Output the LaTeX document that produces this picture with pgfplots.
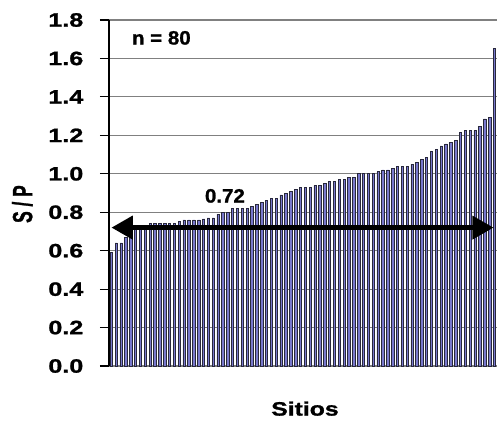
\documentclass[border=0pt]{standalone}
\usepackage{pgfplots}
\usepackage{pgfplotstable}
\pgfplotsset{compat=1.18}
\usepackage{fontspec}
\setmainfont{Liberation Sans}
\newfontfamily\tickfont{Liberation Sans}[FakeStretch=1.3, FakeBold=1.2]
\newfontfamily\labfont{Liberation Sans}[FakeStretch=1.28, FakeBold=1.2]
\newfontfamily\annfont{Liberation Sans}[FakeStretch=1.06, FakeBold=1.2]
\newfontfamily\ylfont{Liberation Sans}[FakeBold=1.5]
\usetikzlibrary{arrows.meta}
\definecolor{barfill}{RGB}{120,120,205}
\definecolor{baredge}{RGB}{40,40,60}

\pgfplotstableread{
i v
0 0.59
1 0.64
2 0.64
3 0.67
4 0.68
5 0.71
6 0.71
7 0.73
8 0.74
9 0.74
10 0.74
11 0.74
12 0.74
13 0.74
14 0.75
15 0.76
16 0.76
17 0.76
18 0.76
19 0.765
20 0.77
21 0.77
22 0.79
23 0.80
24 0.80
25 0.82
26 0.82
27 0.82
28 0.82
29 0.83
30 0.84
31 0.85
32 0.86
33 0.87
34 0.87
35 0.89
36 0.90
37 0.91
38 0.92
39 0.93
40 0.93
41 0.93
42 0.94
43 0.94
44 0.95
45 0.96
46 0.96
47 0.97
48 0.97
49 0.98
50 0.98
51 1.00
52 1.00
53 1.00
54 1.00
55 1.01
56 1.02
57 1.02
58 1.03
59 1.04
60 1.04
61 1.04
62 1.05
63 1.06
64 1.075
65 1.085
66 1.115
67 1.125
68 1.145
69 1.155
70 1.165
71 1.175
72 1.215
73 1.225
74 1.225
75 1.225
76 1.245
77 1.285
78 1.295
79 1.65
}\datatable

\begin{document}
\begin{tikzpicture}
\begin{axis}[
  name=ax,
  scale only axis,
  width=291pt, height=259.5pt,
  xmin=-0.5, xmax=79.5, ymin=0, ymax=1.8,
  clip=false,
  axis lines*=left,
  x axis line style={draw=gray, line width=0.8pt},
  y axis line style={draw=black, line width=0.8pt},
  xtick=\empty,
  ytick={0,0.2,0.4,0.6,0.8,1.0,1.2,1.4,1.6,1.8},
  tick align=outside,
  major tick length=6.75pt,
  ytick style={black, line width=0.8pt},
  ymajorgrids,
  grid style={draw=gray, line width=0.9pt},
  yticklabel style={font=\tickfont\bfseries\fontsize{14.5}{16}\selectfont, xshift=-9pt},
  /pgf/number format/.cd, fixed, fixed zerofill, precision=1, assume math mode=true,
]
\addplot[ybar, bar width=0.5, fill=barfill, draw=baredge, line width=0.6pt]
  table[x=i, y=v]{\datatable};
\draw[line width=3.75pt, {Triangle[length=16pt,width=17pt]}-{Triangle[length=16pt,width=17pt]}]
  (axis cs:0,0.72) -- (axis cs:78.8,0.72);
\node[font=\annfont\bfseries\fontsize{14.5}{16}\selectfont] at (axis cs:23.4,0.885) {0.72};
\node[font=\annfont\bfseries\fontsize{14.5}{16}\selectfont] at (axis cs:10.3,1.707) {n = 80};
\node[font=\labfont\bfseries\fontsize{14.5}{16}\selectfont] at ([yshift=-32pt]rel axis cs:0.505,0) {Sitios};
\node[rotate=90, font=\ylfont\bfseries\fontsize{13}{15}\selectfont] at ([xshift=-65pt]rel axis cs:0,0.468) {\scalebox{1}[1.6]{S / P}};
\end{axis}
\pgfresetboundingbox
\path[use as bounding box] ([xshift=-81.75pt,yshift=-42pt]ax.south west) rectangle ([yshift=15pt]ax.north east);
\end{tikzpicture}
\end{document}
